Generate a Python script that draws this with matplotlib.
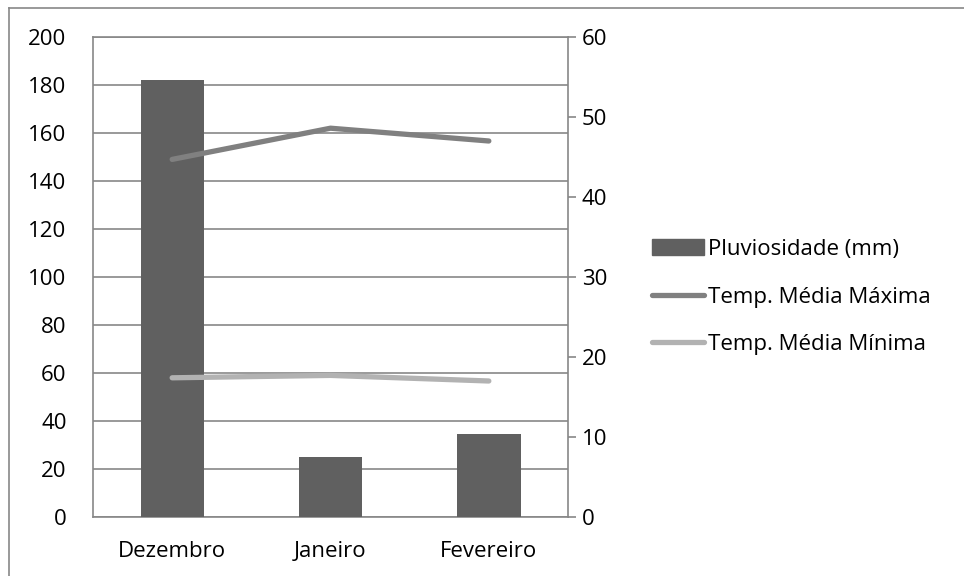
import matplotlib.pyplot as plt
from matplotlib.lines import Line2D
from matplotlib.patches import Patch

months = ["Dezembro", "Janeiro", "Fevereiro"]
pluviosidade = [182, 25, 34.5]
temp_max = [44.7, 48.6, 47.0]
temp_min = [17.4, 17.7, 17.0]

left_ticks = list(range(0, 201, 20))
right_ticks = list(range(0, 61, 10))

BAR_COLOR = "#606060"
MAX_COLOR = "#808080"
MIN_COLOR = "#b2b2b2"
AXIS_COLOR = "#878787"
FS = 16

plt.rcParams["font.family"] = ["Open Sans", "DejaVu Sans"]

fig = plt.figure(figsize=(9.64, 5.76), dpi=100)
W, H = 964, 576
ax = fig.add_axes([93 / W, 1 - 517 / H, (568 - 93) / W, (517 - 37) / H])

x = list(range(len(months)))
ax.bar(x, pluviosidade, width=0.40, color=BAR_COLOR, zorder=3)
ax.set_xlim(-0.5, 2.5)
ax.set_ylim(0, 200)
ax.set_yticks(left_ticks)
ax.set_xticks(x)
ax.set_xticklabels(months)
ax.grid(axis="y", color=AXIS_COLOR, linewidth=1.2, zorder=0)
ax.tick_params(axis="y", length=0, pad=19, labelsize=FS)
ax.tick_params(axis="x", length=0, pad=17, labelsize=FS)
for side in ["left", "bottom", "top"]:
    ax.spines[side].set_color(AXIS_COLOR)
    ax.spines[side].set_linewidth(1.2)
ax.spines["right"].set_visible(False)
ax.set_axisbelow(True)

ax2 = ax.twinx()
ax2.plot(x, temp_max, color=MAX_COLOR, linewidth=3.8, solid_capstyle="round", zorder=4)
ax2.plot(x, temp_min, color=MIN_COLOR, linewidth=3.8, solid_capstyle="round", zorder=4)
ax2.set_ylim(0, 60)
ax2.set_yticks(right_ticks)
ax2.tick_params(axis="y", length=5.8, width=1.2, color=AXIS_COLOR, pad=4, labelsize=FS)
for side in ["left", "bottom", "top"]:
    ax2.spines[side].set_visible(False)
ax2.spines["right"].set_color(AXIS_COLOR)
ax2.spines["right"].set_linewidth(1.2)

handles = [
    Patch(facecolor=BAR_COLOR, edgecolor=BAR_COLOR),
    Line2D([0], [0], color=MAX_COLOR, linewidth=3.8, solid_capstyle="round"),
    Line2D([0], [0], color=MIN_COLOR, linewidth=3.8, solid_capstyle="round"),
]
labels = ["Pluviosidade (mm)", "Temp. Média Máxima", "Temp. Média Mínima"]
fig.legend(handles, labels, loc="center left", bbox_to_anchor=(632 / W, 1 - 297 / H),
           frameon=False, fontsize=FS, handlelength=2.35, handletextpad=0.18,
           labelspacing=1.2)

# outer chart border
fig.add_artist(Line2D([9 / W, 9 / W], [0, 1 - 8 / H], color=AXIS_COLOR, linewidth=1.2))
fig.add_artist(Line2D([9 / W, 1], [1 - 8 / H, 1 - 8 / H], color=AXIS_COLOR, linewidth=1.2))

fig.savefig("out.png", dpi=100)
